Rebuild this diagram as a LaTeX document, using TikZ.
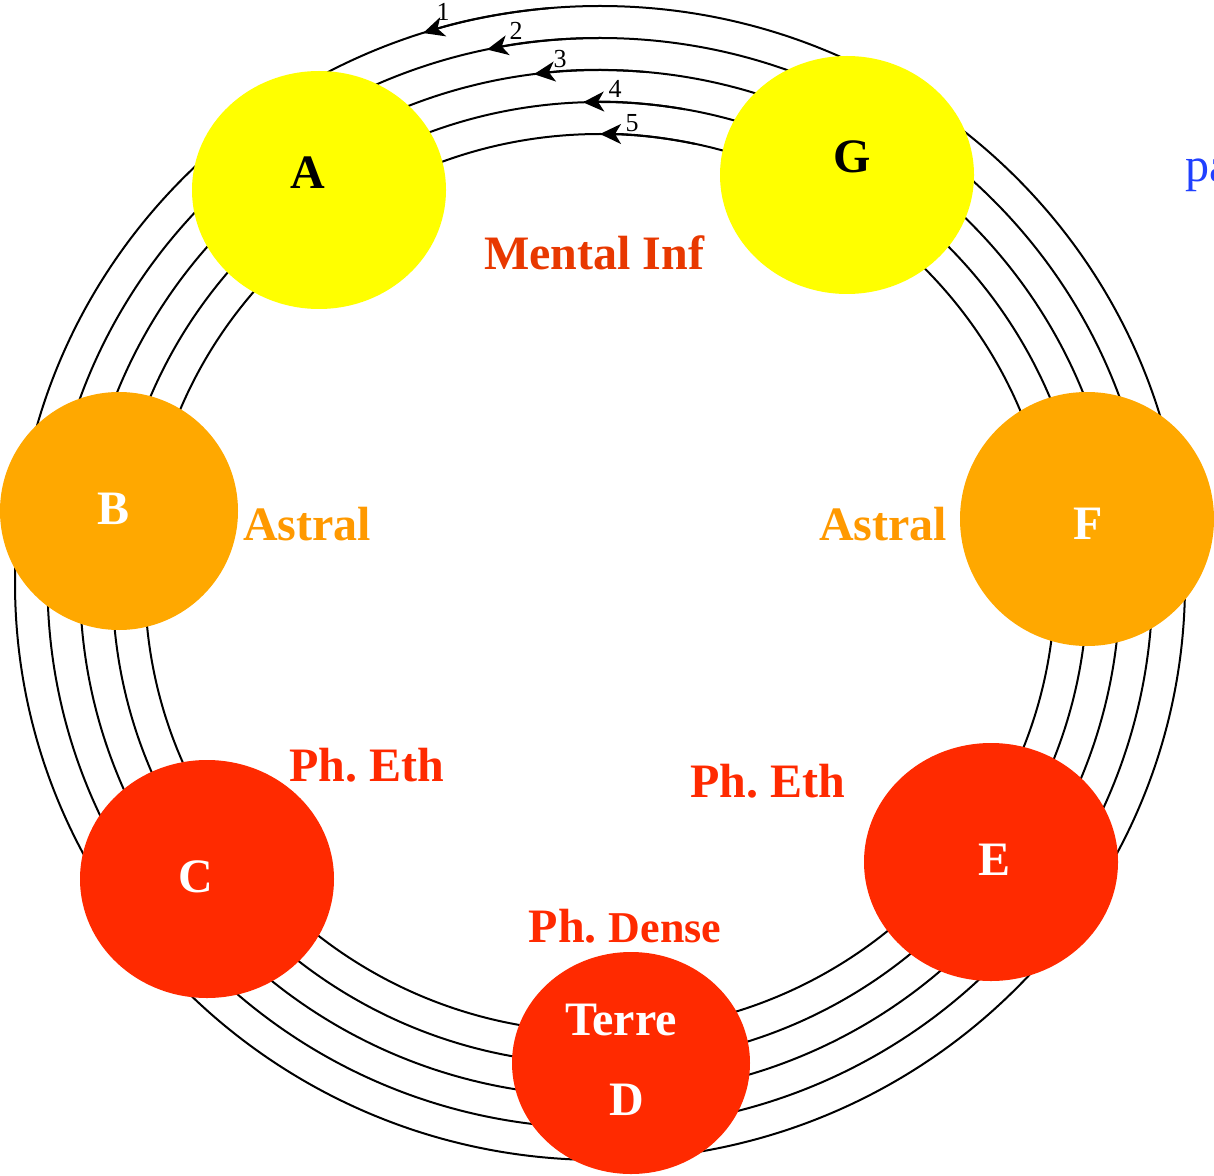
\documentclass[tikz,border=0pt]{standalone}
\usepackage{fontspec}
\setmainfont{Liberation Serif}
\usepackage{tikz}
\usetikzlibrary{arrows.meta, shapes.geometric}
\usepackage{xcolor}
\definecolor{plYellow}{HTML}{FFFF00}
\definecolor{plOrange}{HTML}{FFA800}
\definecolor{plRed}{HTML}{FF2A00}
\definecolor{txAstral}{HTML}{FF9900}
\definecolor{txMental}{HTML}{E83800}
\definecolor{txBlue}{HTML}{2040FF}

\begin{document}
\begin{tikzpicture}[
    x=0.5pt, y=0.5pt,
    ring/.style={line width=1pt, black},
    ringarrow/.style={line width=1pt, black, -{Stealth[length=10.5pt, width=10pt, inset=3pt]}},
    num/.style={font=\fontsize{13}{15}\selectfont, inner sep=0pt},
    planet/.style={ellipse, inner sep=0pt},
    lettre/.style={font=\fontsize{24}{28}\selectfont\bfseries, inner sep=0pt},
    plan/.style={font=\fontsize{24}{28}\selectfont\bfseries, inner sep=0pt},
]
\useasboundingbox (0,0) rectangle (1214,1175);

% ===== anneaux =====
\coordinate (ctr) at (600, 592);
\draw[ring] (ctr) ellipse [x radius=292.5pt, y radius=288.5pt];
\draw[ring] (ctr) ellipse [x radius=276.25pt, y radius=272.5pt];
\draw[ring] (ctr) ellipse [x radius=260pt, y radius=256.5pt];
\draw[ring] (ctr) ellipse [x radius=243.75pt, y radius=240.5pt];
\draw[ring] (ctr) ellipse [x radius=227.5pt, y radius=224.5pt];

% ===== flèches et numéros =====
\draw[ringarrow] ([shift={(95:292.5pt and 288.5pt)}]ctr) arc [start angle=95, end angle=107.6, x radius=292.5pt, y radius=288.5pt];
\draw[ringarrow] ([shift={(90:276.25pt and 272.5pt)}]ctr) arc [start angle=90, end angle=101.8, x radius=276.25pt, y radius=272.5pt];
\draw[ringarrow] ([shift={(85:260pt and 256.5pt)}]ctr) arc [start angle=85, end angle=97.3, x radius=260pt, y radius=256.5pt];
\draw[ringarrow] ([shift={(80:243.75pt and 240.5pt)}]ctr) arc [start angle=80, end angle=92, x radius=243.75pt, y radius=240.5pt];
\draw[ringarrow] ([shift={(78:227.5pt and 224.5pt)}]ctr) arc [start angle=78, end angle=90, x radius=227.5pt, y radius=224.5pt];
\node[num] (n1) at (443, 1163) {1};
\node[num] (n2) at (516, 1144) {2};
\node[num] (n3) at (560, 1116) {3};
\node[num] (n4) at (615, 1086) {4};
\node[num] (n5) at (632, 1052) {5};

% ===== planètes =====
\node[planet, fill=plYellow, minimum width=127pt, minimum height=119pt] (pA) at (319, 985) {};
\node[planet, fill=plYellow, minimum width=127pt, minimum height=119pt] (pG) at (847, 1000) {};
\node[planet, fill=plOrange, minimum width=119pt, minimum height=119pt] (pB) at (119, 664) {};
\node[planet, fill=plOrange, minimum width=127pt, minimum height=127pt] (pF) at (1087, 656) {};
\node[planet, fill=plRed, minimum width=127pt, minimum height=119pt] (pC) at (207, 296) {};
\node[planet, fill=plRed, minimum width=127pt, minimum height=119pt] (pE) at (991, 313) {};
\node[planet, fill=plRed, minimum width=119pt, minimum height=111pt] (pD) at (631, 112) {};

% ===== lettres =====
\node[lettre, text=black] (lA) at (308, 1002) {A};
\node[lettre, text=black] (lG) at (852, 1018) {G};
\node[lettre, text=white] (lB) at (114, 666) {B};
\node[lettre, text=white] (lF) at (1088, 651) {F};
\node[lettre, text=white] (lC) at (196, 298) {C};
\node[lettre, text=white] (lE) at (994, 315) {E};
\node[lettre, text=white] (terre) at (621, 155) {Terre};
\node[lettre, text=white] (lD) at (627, 75) {D};

% ===== plans =====
\node[plan, text=txMental] (mental) at (594, 922) {Mental Inf};
\node[plan, text=txAstral] (astralL) at (307, 651) {Astral};
\node[plan, text=txAstral] (astralR) at (883, 651) {Astral};
\node[plan, text=plRed] (ethL) at (367, 410) {Ph.\ Eth};
\node[plan, text=plRed] (ethR) at (768, 394) {Ph.\ Eth};
\node[plan, text=plRed] (dense) at (625, 249) {Ph.\ {\fontsize{22}{24}\selectfont Dense}};

\node[font=\fontsize{24}{28}\selectfont, text=txBlue, inner sep=0pt, anchor=base west] (pa) at (1185, 993) {pa};
\end{tikzpicture}
\end{document}
